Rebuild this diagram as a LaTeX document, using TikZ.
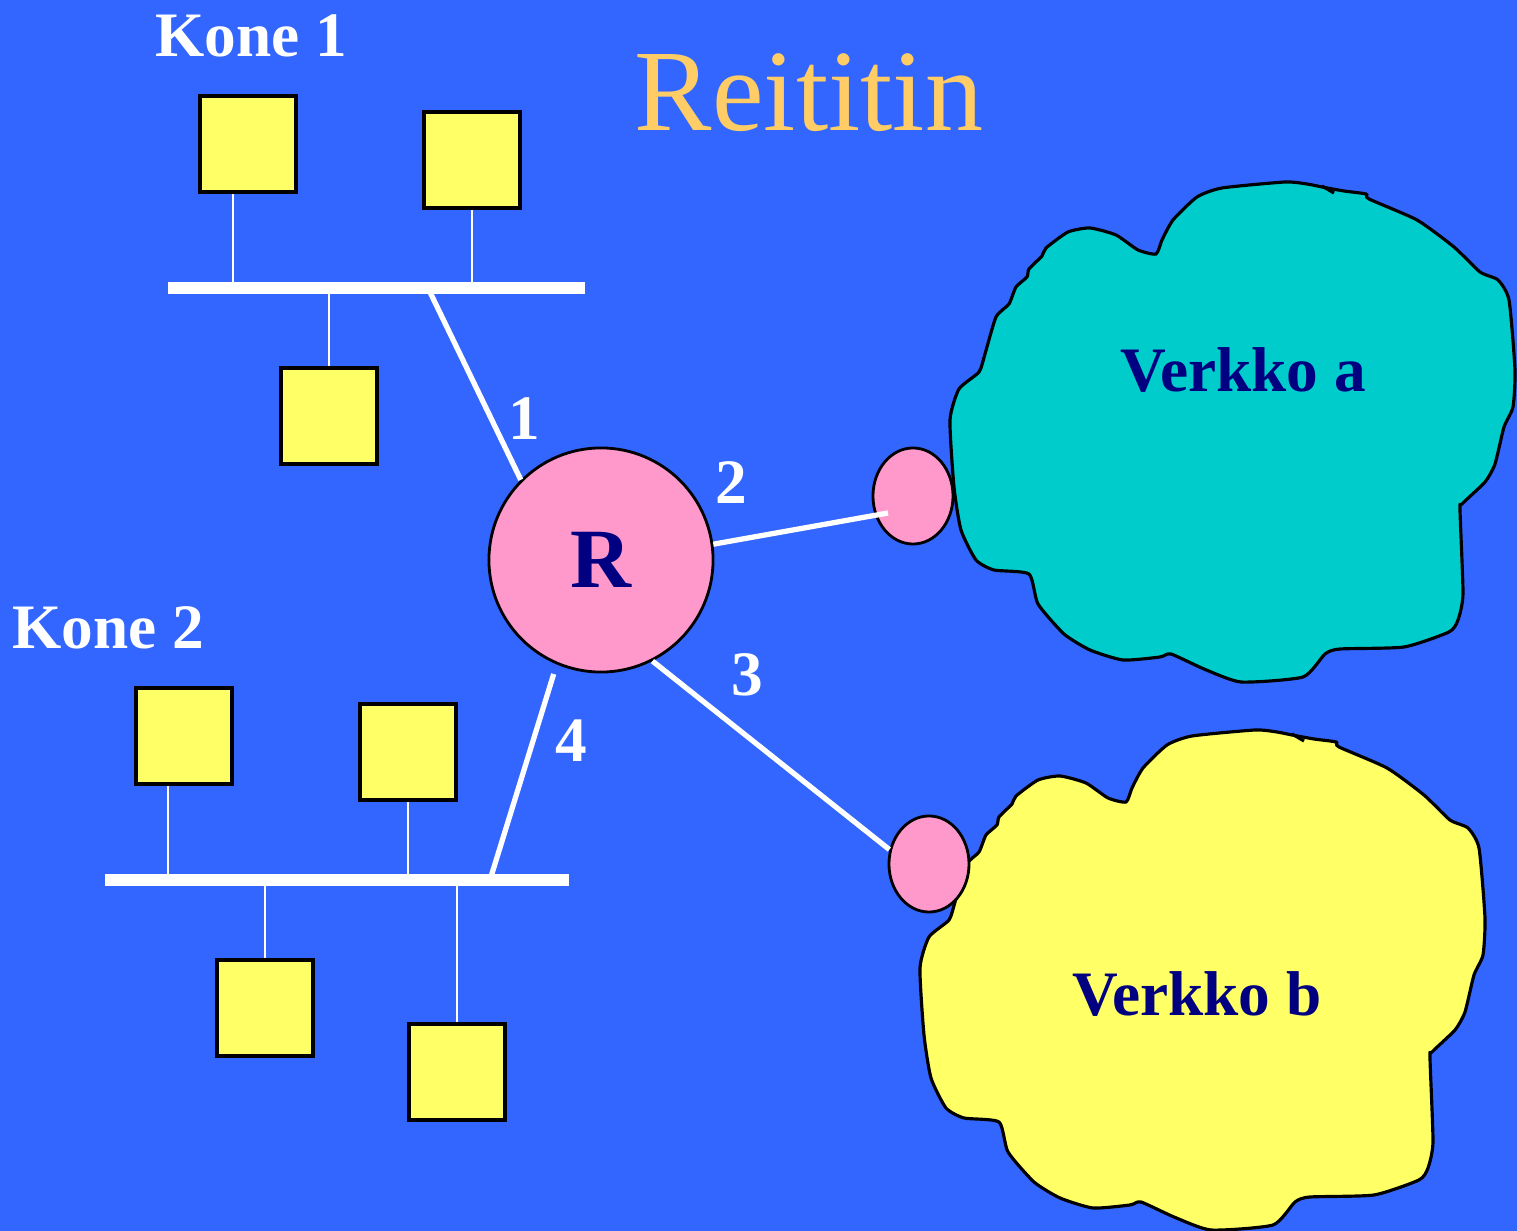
\documentclass[tikz,border=0pt]{standalone}
\usepackage{fontspec}
\setmainfont{Liberation Serif}
\usetikzlibrary{shapes.geometric}

\definecolor{tausta}{HTML}{3366FF}
\definecolor{konekelt}{HTML}{FFFF66}
\definecolor{reitpink}{HTML}{FF99CC}
\definecolor{verkkosyaani}{HTML}{00CCCC}
\definecolor{laivasto}{HTML}{000080}
\definecolor{otsikkooranssi}{HTML}{FFCC66}

\begin{document}
\begin{tikzpicture}[
       x=0.01cm, y=-0.01cm,
       kone_style/.style={draw, black, line width=1pt, fill=konekelt, minimum size=0.96cm, inner sep=0pt}, % koneen laatikko
       vayla_style/.style={draw, white, line width=3.2pt}, % paksu valkoinen vayla
       pudotus_style/.style={draw, white, line width=0.7pt}, % ohut liitanta vaylaan
       linkki_style/.style={draw, white, line width=1.5pt}, % reitittimen liitannat
       portti_style/.style={ellipse, draw, black, line width=0.8pt, fill=reitpink, minimum width=0.8cm, minimum height=0.96cm, inner sep=0pt},
       valk_teksti/.style={white, font=\bfseries\fontsize{18pt}{20pt}\selectfont},
       verkko_teksti/.style={laivasto, font=\bfseries\fontsize{18pt}{20pt}\selectfont},
       pics/verkko/.style={code={
           \draw[black, line width=0.9pt, fill=#1] plot[smooth cycle, tension=0.35] coordinates {
             (950,420) (959,389) (979,372) (985,354) (996,317) (1009,304) (1016,287) (1027,277)
             (1029,269) (1042,256) (1046,248) (1068,232) (1090,228) (1116,235) (1138,250) (1156,254)
             (1162,240) (1173,220) (1197,197) (1222,188) (1285,182) (1307,184) (1322,187) (1344,191)
             (1366,194) (1369,199) (1417,220) (1454,247) (1480,272) (1498,280) (1509,300) (1515,370)
             (1513,407) (1504,427) (1495,464) (1485,482) (1462,504) (1460,510) (1463,594) (1458,620)
             (1449,632) (1404,647) (1340,649) (1325,654) (1303,677) (1241,682) (1204,669) (1171,654)
             (1160,657) (1123,660) (1090,650) (1064,634) (1038,604) (1029,574) (994,570) (976,560)
             (961,530) (954,487)};
           \draw[black, line width=0.9pt] (1322,186) -- (1334,193);
       }}
   ]

   % 1. tausta ja kuvan rajat
   \fill[tausta] (0,0) rectangle (1517,1231);
   \useasboundingbox (0,0) rectangle (1517,1231);

   % 2. verkot a ja b
   \pic at (0,0) {verkko=verkkosyaani};
   \pic at (-30,548) {verkko=konekelt};
   \node[verkko_teksti] (vta) at (1243,370) {Verkko a};
   \node[verkko_teksti] (vtb) at (1197,994) {Verkko b};

   % 3. otsikko
   \node[otsikkooranssi, font=\fontsize{33pt}{36pt}\selectfont] (otsikko) at (809,93) {Reititin};

   % 4. kone 1: vayla ja kolme konetta
   \node[valk_teksti] (kone1) at (251,36) {Kone 1};
   \coordinate (v1w) at (168,288);
   \coordinate (v1e) at (585,288);
   \coordinate (t1) at (428,288);
   \node[kone_style] (k1a) at (248,144) {};
   \node[kone_style] (k1b) at (472,160) {};
   \node[kone_style] (k1c) at (329,416) {};
   \draw[pudotus_style] ([xshift=-0.15cm]k1a.south) -- ([xshift=-0.15cm]k1a.south |- v1w);
   \draw[pudotus_style] (k1b.south) -- (k1b.south |- v1w);
   \draw[pudotus_style] (k1c.north) -- (k1c.north |- v1w);
   \draw[vayla_style] (v1w) -- (v1e);

   % 5. kone 2: vayla ja nelja konetta
   \node[valk_teksti] (kone2) at (108,628) {Kone 2};
   \coordinate (v2w) at (105,880);
   \coordinate (v2e) at (569,880);
   \coordinate (t4) at (490,880);
   \node[kone_style] (k2a) at (184,736) {};
   \node[kone_style] (k2b) at (408,752) {};
   \node[kone_style] (k2c) at (265,1008) {};
   \node[kone_style] (k2d) at (457,1072) {};
   \draw[pudotus_style] ([xshift=-0.16cm]k2a.south) -- ([xshift=-0.16cm]k2a.south |- v2w);
   \draw[pudotus_style] (k2b.south) -- (k2b.south |- v2w);
   \draw[pudotus_style] (k2c.north) -- (k2c.north |- v2w);
   \draw[pudotus_style] (k2d.north) -- (k2d.north |- v2w);
   \draw[vayla_style] (v2w) -- (v2e);

   % 6. reititin R ja portit
   \node[circle, draw=black, line width=0.8pt, fill=reitpink, minimum size=2.24cm, inner sep=0pt,
         text=laivasto, font=\bfseries\fontsize{24pt}{26pt}\selectfont] (R) at (601,560) {R};
   \node[portti_style] (pa) at (913,496) {};
   \node[portti_style] (pb) at (929,864) {};
   \coordinate (pa_sis) at (888,513);

   % 7. liitannat 1-4
   \draw[linkki_style] (t1) -- (R.135);
   \draw[linkki_style] (R.8) -- (pa_sis);
   \draw[linkki_style] (R.-63) -- (pb.160);
   \draw[linkki_style, shorten <=0.1cm] (R.-113) -- (t4);

   \node[valk_teksti] (n1) at (524,419) {1};
   \node[valk_teksti] (n2) at (731,483) {2};
   \node[valk_teksti] (n3) at (747,675) {3};
   \node[valk_teksti] (n4) at (571,741) {4};

   \end{tikzpicture}
\end{document}
